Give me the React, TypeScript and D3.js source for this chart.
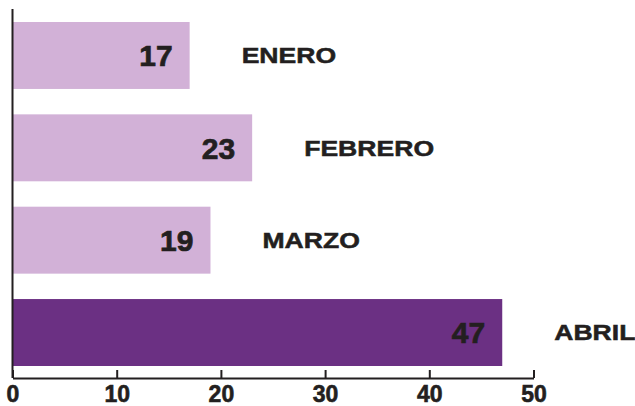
import React, { useEffect, useRef } from "react";
import * as d3 from "d3";

const months = ["ENERO", "FEBRERO", "MARZO", "ABRIL"];
const values = [17, 23, 19, 47];
const highlight = ["ABRIL"];
const tickValues = [0, 10, 20, 30, 40, 50];

const W = 635;
const H = 406;

export default function App() {
  const ref = useRef<SVGSVGElement | null>(null);

  useEffect(() => {
    const svg = d3.select(ref.current);
    svg.selectAll("*").remove();

    const x = d3.scaleLinear().domain([0, 50]).range([12.5, 533.5]);
    const y = d3.scaleBand<string>().domain(months).range([22, 366]).paddingInner(0.275).paddingOuter(0);
    const data = months.map((m, i) => ({ m, v: values[i] }));
    const font = "'Liberation Sans', Arial, Helvetica, sans-serif";
    const ink = "#231f20";

    svg
      .append("g")
      .selectAll("rect")
      .data(data)
      .join("rect")
      .attr("x", x(0))
      .attr("y", (d) => y(d.m)!)
      .attr("width", (d) => x(d.v) - x(0))
      .attr("height", y.bandwidth())
      .attr("fill", (d) => (highlight.includes(d.m) ? "#6b3083" : "#d2b1d7"));

    // value labels
    svg
      .append("g")
      .selectAll("text")
      .data(data)
      .join("text")
      .attr("x", (d) => x(d.v) - 17)
      .attr("y", (d) => y(d.m)! + y.bandwidth() / 2)
      .attr("dy", "0.36em")
      .attr("text-anchor", "end")
      .attr("font-family", font)
      .attr("font-weight", "bold")
      .attr("font-size", 30)
      .attr("fill", ink)
      .attr("stroke", ink)
      .attr("stroke-width", 0.7)
      .text((d) => String(d.v));

    // category labels (extended look via horizontal scale)
    svg
      .append("g")
      .selectAll("text")
      .data(data)
      .join("text")
      .attr(
        "transform",
        (d) => `translate(${x(d.v) + 52},${y(d.m)! + y.bandwidth() / 2}) scale(1.22,1)`
      )
      .attr("dy", "0.36em")
      .attr("text-anchor", "start")
      .attr("font-family", font)
      .attr("font-weight", "bold")
      .attr("font-size", 21.8)
      .attr("fill", ink)
      .attr("stroke", ink)
      .attr("stroke-width", 0.5)
      .text((d) => d.m);

    const axisY = 378;
    svg
      .append("line")
      .attr("x1", x(0))
      .attr("x2", x(0))
      .attr("y1", 9)
      .attr("y2", axisY)
      .attr("stroke", ink)
      .attr("stroke-width", 2);

    const axis = d3
      .axisTop(x)
      .tickValues(tickValues)
      .tickSize(8)
      .tickSizeOuter(0)
      .tickFormat((d) => String(d));
    const g = svg.append("g").attr("transform", `translate(0,${axisY})`).call(axis);
    g.select(".domain").attr("stroke", ink).attr("stroke-width", 2);
    g.selectAll(".tick line").attr("stroke", ink).attr("stroke-width", 2);
    g.selectAll(".tick text")
      .attr("y", 24)
      .attr("dy", null)
      .attr("font-family", font)
      .attr("font-weight", "bold")
      .attr("font-size", 23)
      .attr("fill", ink)
      .attr("stroke", ink)
      .attr("stroke-width", 0.6);
  }, []);

  return (
    <svg
      ref={ref}
      width={W}
      height={H}
      style={{ position: "absolute", left: 0, top: 0, background: "#fff" }}
    />
  );
}
